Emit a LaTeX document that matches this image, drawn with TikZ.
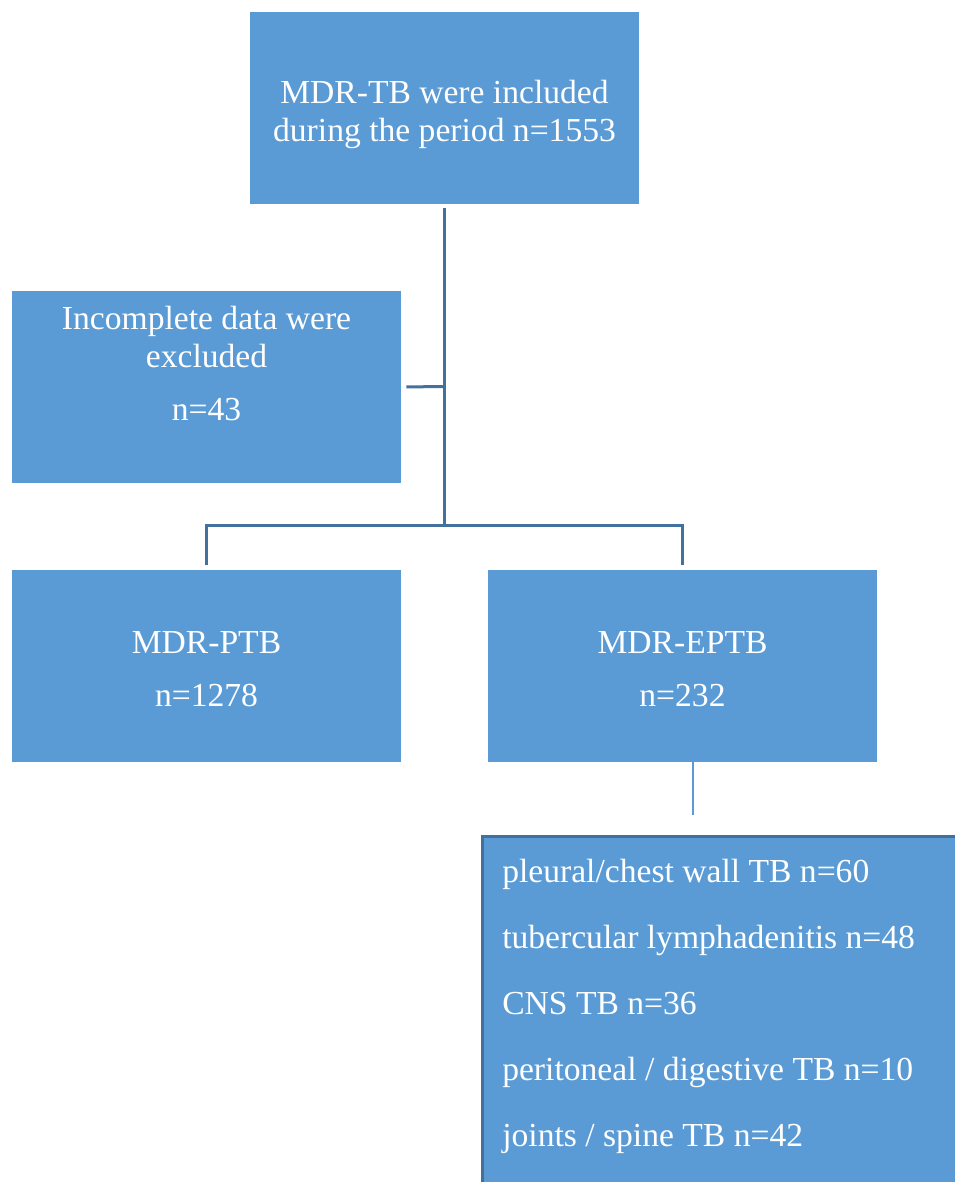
\documentclass[tikz,border=0pt]{standalone}
\usepackage{fontspec}
\setmainfont{Liberation Serif}
\definecolor{boxblue}{HTML}{5B9BD5}
\definecolor{lineblue}{HTML}{41719C}

\begin{document}
\begin{tikzpicture}[x=0.75pt,y=-0.75pt,
	box/.style={fill=boxblue,minimum width=291.75pt,minimum height=144pt,inner sep=0pt},
	boxtext/.style={text=white,inner sep=0pt,align=center,font=\fontsize{25.2}{28.5}\selectfont},
	listbox/.style={fill=boxblue,draw=lineblue,line width=2.25pt,minimum width=400pt,minimum height=300pt},
	listtext/.style={text=white,inner sep=0pt,align=left,font=\fontsize{25.2}{49.5}\selectfont},
	conn/.style={draw=lineblue,line width=2.25pt},
	tailline/.style={draw=boxblue,line width=1.5pt}]
	\useasboundingbox (0,0) rectangle (955,1182);
	\clip (0,0) rectangle (955,1182);
	% boxes
	\node[box] (top) at (444.5, 108) {};
	\node[box] (excl) at (206.5, 387) {};
	\node[box] (ptb) at (206.5, 666) {};
	\node[box] (eptb) at (682.5, 666) {};
	\node[listbox, anchor=north west] (list) at (481, 835) {};
	% texts
	\node[boxtext] (toptext) at (444.5, 114) {MDR-TB were included\\during the period n=1553};
	\node[boxtext, anchor=north] (excltext) at (206.5, 306) {Incomplete data were\\excluded\\[11.25pt]n=43};
	\node[boxtext] (ptbtext) at (206.5, 669) {MDR-PTB\\[11.25pt]n=1278};
	\node[boxtext] (eptbtext) at (682.5, 669) {MDR-EPTB\\[11.25pt]n=232};
	\node[listtext, anchor=north west] (items) at (502, 859) {pleural/chest wall TB n=60\\tubercular lymphadenitis n=48\\CNS TB n=36\\peritoneal / digestive TB n=10\\joints / spine TB n=42};
	% connectors
	\coordinate (split) at (444.5, 386.5);
	\coordinate (fork) at (444.5, 525);
	\coordinate (tailend) at (693, 815);
	\draw[conn, shorten <=3pt] (top.south) -- (fork);
	\draw[conn, shorten <=3.75pt] (excl.east) -- (split);
	\draw[conn, shorten <=3.5pt, shorten >=3.5pt] (ptb.north) |- (fork) -| (eptb.north);
	\draw[tailline] (eptb.south -| tailend) -- (tailend);
\end{tikzpicture}
\end{document}
